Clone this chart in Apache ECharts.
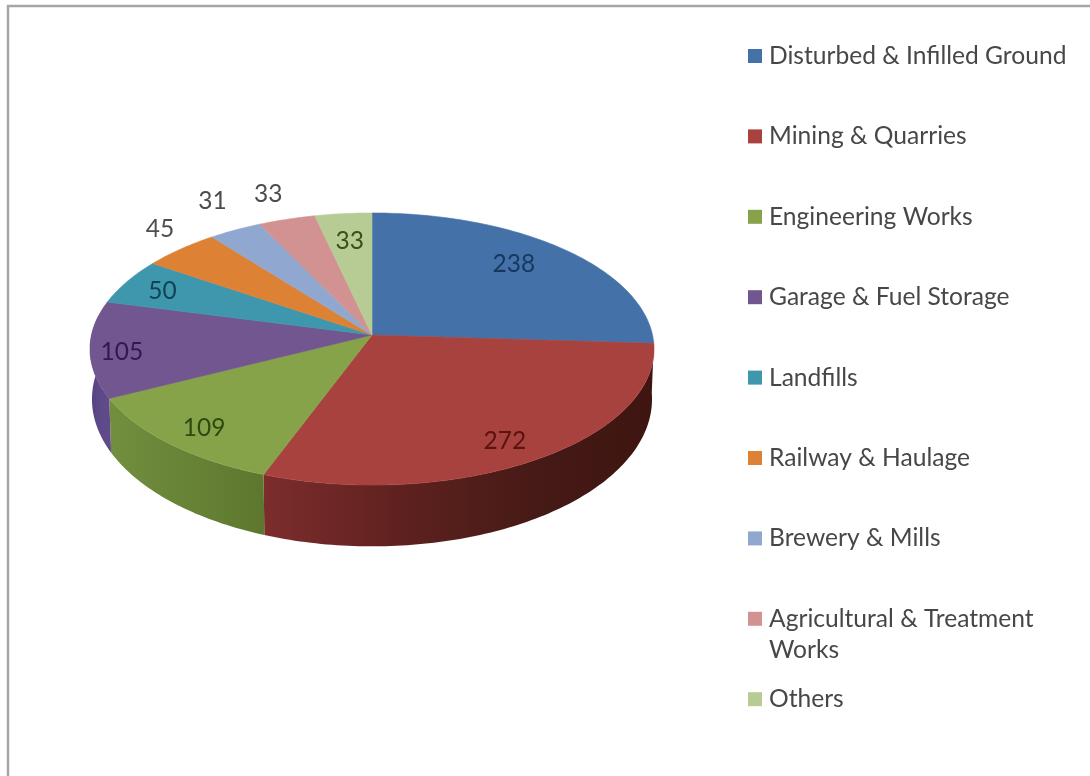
<!DOCTYPE html>
<html>
<head>
<meta charset="utf-8">
<style>html,body{margin:0;padding:0;background:#fff}#chart{width:1090px;height:776px}</style>
<script src="https://cdn.jsdelivr.net/npm/echarts@6/dist/echarts.min.js"></script>
</head>
<body>
<div id="chart"></div>
<script>
const categories = ['Disturbed & Infilled Ground','Mining & Quarries','Engineering Works','Garage & Fuel Storage','Landfills','Railway & Haulage','Brewery & Mills','Agricultural & Treatment Works','Others'];
const sliceValues = [238,272,109,105,50,45,31,33,33];
const sliceColors = ['#4472a8','#a8423f','#87a34a','#71568f','#3f97ae','#dd8135','#90a8d0','#d29291','#b7cc94'];
const labelColors = ['#17375e','#5c1210','#2d4a10','#2f1a4f','#0e4455','#4d4d4d','#4d4d4d','#4d4d4d','#3a4f20'];
const labelRadius = [0.773,0.85,0.854,0.889,0.842,1.184,1.278,1.245,0.757];
const labelAngleShift = [-3,2,-1,-2,-1,3,2.3,0,0];
const wallStops = [null,['#7c2d2c','#5e211f','#461a16','#3e1510'],['#728f40','#6a8638','#647f33','#5d772e'],['#544280','#5c4888','#5f4b8a','#5f4b8a'],null,null,null,null,null];

const FONT = 'Lato, "Open Sans", sans-serif';
const CX = 372, CY = 335, A = 280.5, B = 134.6, K = 0.103;
const total = sliceValues.reduce((s, v) => s + v, 0);
const rad = d => d * Math.PI / 180;
function project(deg, r) {
  const u = Math.sin(rad(deg)) * r, v = -Math.cos(rad(deg)) * r, w = 1 - K * v;
  return [A * u / w, B * v / w];
}
function arc(a0, a1, fn) {
  const pts = [], n = Math.max(2, Math.ceil(Math.abs(a1 - a0)));
  for (let i = 0; i <= n; i++) pts.push(fn(a0 + (a1 - a0) * i / n));
  return pts;
}
const topPt = d => { const p = project(d, 1); return [CX + p[0], CY + p[1]]; };
const botPt = d => { const p = project(d, 1); return [CX + p[0] * 0.993, CY + 49 + p[1] * 1.082]; };

function renderSlice(i) {
  return function (params, api) {
    const value = api.value(0);
    const before = sliceValues.slice(0, i).reduce((s, v) => s + v, 0);
    const a0 = before / total * 360, a1 = a0 + value / total * 360;
    const children = [];
    const w0 = Math.max(a0, 90), w1 = Math.min(a1, 278);
    if (wallStops[i] && w1 > w0) {
      const up = arc(w0, w1, topPt), lo = arc(w1, w0, botPt);
      const xs = up.concat(lo).map(p => p[0]);
      const c = wallStops[i];
      children.push({
        type: 'polygon', z2: 1,
        shape: { points: up.concat(lo) },
        style: {
          fill: new echarts.graphic.LinearGradient(Math.min(...xs), 0, Math.max(...xs), 0, [
            { offset: 0, color: c[0] }, { offset: 0.35, color: c[1] }, { offset: 0.7, color: c[2] }, { offset: 1, color: c[3] }
          ], true)
        }
      });
    }
    children.push({
      type: 'polygon', z2: 5,
      shape: { points: [[CX, CY]].concat(arc(a0, a1, topPt)) },
      style: { fill: sliceColors[i], stroke: sliceColors[i], lineWidth: 0.6 }
    });
    const lp = project((a0 + a1) / 2 + labelAngleShift[i], labelRadius[i]);
    children.push({
      type: 'text', z2: 10,
      style: {
        x: CX + lp[0], y: CY + lp[1], text: String(value),
        font: '24.5px ' + FONT, fill: labelColors[i], align: 'center', verticalAlign: 'middle'
      }
    });
    return { type: 'group', children };
  };
}

const chart = echarts.init(document.getElementById('chart'), null, { renderer: 'canvas' });
chart.setOption({
  animation: false,
  backgroundColor: '#ffffff',
  color: sliceColors,
  legend: {
    orient: 'vertical', left: 748, top: 9.5, itemGap: -12.6, padding: 0,
    itemWidth: 14, itemHeight: 14, icon: 'rect', selectedMode: false,
    formatter: n => n.includes('Treatment')
      ? ' \n' + n.replace('Treatment Works', 'Treatment\nWorks')
      : ' \n' + n + '\n ',
    textStyle: { fontFamily: FONT, fontSize: 24.6, color: '#474747', lineHeight: 31, padding: [0, 0, 0, 2] },
    data: categories
  },
  graphic: [{
    type: 'polyline', silent: true,
    shape: { points: [[8, 776], [8, 6], [1090, 6]] },
    style: { fill: 'none', stroke: '#a6a6a6', lineWidth: 2.5 }
  }],
  series: categories.map((name, i) => ({
    type: 'custom', name, coordinateSystem: 'none',
    renderItem: renderSlice(i),
    itemStyle: { color: sliceColors[i] },
    data: [[sliceValues[i]]]
  }))
});
</script>
</body>
</html>
